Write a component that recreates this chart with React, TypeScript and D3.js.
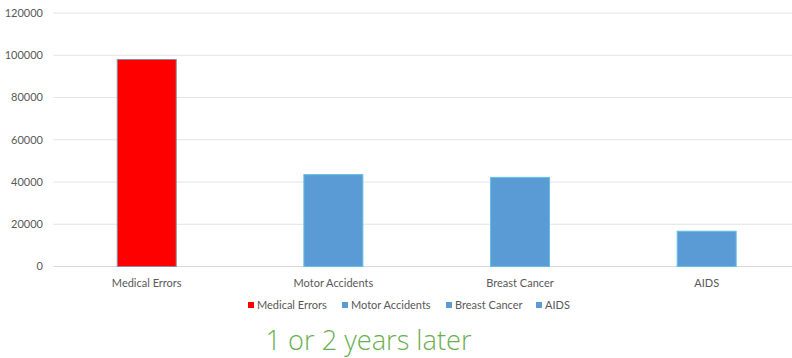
import React from "react";
import * as d3 from "d3";

const categories = ["Medical Errors", "Motor Accidents", "Breast Cancer", "AIDS"];
const deaths = [98000, 43500, 42200, 16700];
const yTicks = [0, 20000, 40000, 60000, 80000, 100000, 120000];
const caption = "1 or 2 years later";

const W = 792;
const H = 358;
const margin = { left: 53.4, right: -8, top: 13, bottom: 91.5 };

const fills = ["#FF0000", "#5B9BD5", "#5B9BD5", "#5B9BD5"];
const strokes = ["#8C8CA8", "#63C1E3", "#63C1E3", "#63C1E3"];

export default function App() {
  const x = d3
    .scaleBand<string>()
    .domain(categories)
    .range([margin.left, W - margin.right])
    .paddingInner(0.684)
    .paddingOuter(0.342);
  const y = d3
    .scaleLinear()
    .domain([0, 120000])
    .range([H - margin.bottom, margin.top]);

  const font = "Lato, 'Open Sans', sans-serif";
  const legendX = [248, 342, 446, 536];

  return (
    <svg
      width={W}
      height={H}
      style={{ position: "absolute", left: 0, top: 0, background: "#fff" }}
      fontFamily={font}
    >
      {yTicks.map((t) => (
        <g key={t}>
          <line
            x1={margin.left}
            x2={W}
            y1={y(t)}
            y2={y(t)}
            stroke={t === 0 ? "#D9D9D9" : "#E4E4E4"}
            strokeWidth={1}
          />
          <text
            x={43}
            y={y(t)}
            dy="0.35em"
            textAnchor="end"
            fontSize={11}
            fill="#595959"
          >
            {t}
          </text>
        </g>
      ))}
      {categories.map((c, i) => (
        <g key={c}>
          <rect
            x={x(c)}
            y={y(deaths[i])}
            width={x.bandwidth()}
            height={y(0) - y(deaths[i])}
            fill={fills[i]}
            stroke={strokes[i]}
            strokeWidth={1}
          />
          <text
            x={(x(c) as number) + x.bandwidth() / 2}
            y={287}
            textAnchor="middle"
            fontSize={11}
            fill="#595959"
          >
            {c}
          </text>
        </g>
      ))}
      {categories.map((c, i) => (
        <g key={"lg" + c}>
          <rect x={legendX[i]} y={302} width={6} height={6} fill={fills[i]} />
          <text x={legendX[i] + 9} y={309} fontSize={11} fill="#595959">
            {c}
          </text>
        </g>
      ))}
      <text
        x={368.5}
        y={350}
        textAnchor="middle"
        fontSize={27.2}
        fontWeight={300}
        fill="#6AAF50"
        fontFamily="'Open Sans', sans-serif"
      >
        {caption}
      </text>
    </svg>
  );
}
